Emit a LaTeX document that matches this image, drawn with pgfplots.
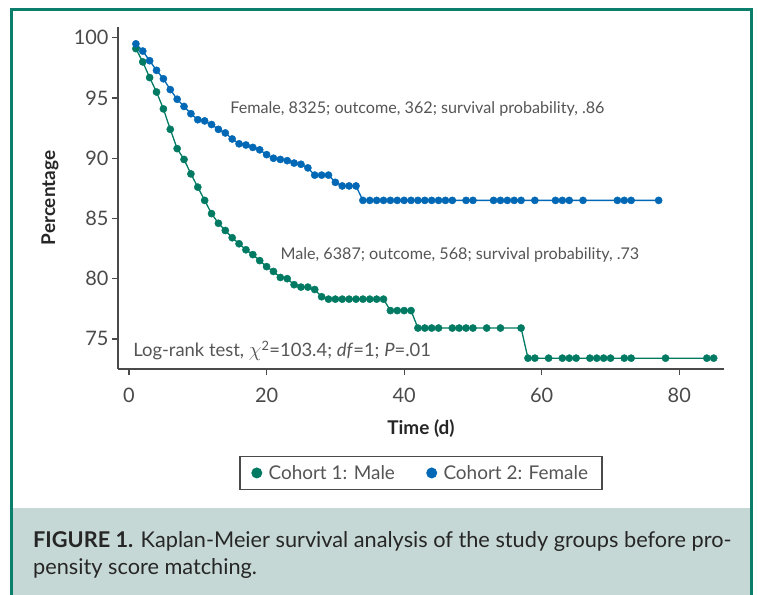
\documentclass[border=0pt]{standalone}
\usepackage{fontspec}
\setmainfont{Lato}
\usepackage{pgfplots}
\pgfplotsset{compat=1.18}

\definecolor{malegreen}{HTML}{007A62}
\definecolor{femaleblue}{HTML}{0068B5}
\definecolor{framegreen}{HTML}{0B7F6B}
\definecolor{capbg}{HTML}{C6D8D5}
\definecolor{txtgray}{HTML}{555555}
\definecolor{axgray}{HTML}{4A4A4A}

\begin{document}
\begin{tikzpicture}[x=1bp,y=1bp]
\useasboundingbox (0,0) rectangle (758,595);
\fill[white] (0,0) rectangle (758,595);
\fill[capbg] (11.5,0) rectangle (751.5,87);
\draw[framegreen, line width=3bp] (11.5,-2) -- (11.5,585.3) -- (751.5,585.3) -- (751.5,-2);
\node[anchor=base west, inner sep=0pt, font=\fontsize{21.8}{24}\selectfont, text=black!85] at (33,47) {\textbf{FIGURE 1.} Kaplan-Meier survival analysis of the study groups before pro-};
\node[anchor=base west, inner sep=0pt, font=\fontsize{21.8}{24}\selectfont, text=black!85] at (33,20) {pensity score matching.};

\begin{axis}[
  at={(118bp,226bp)}, anchor=south west,
  scale only axis, width=606bp, height=342bp,
  xmin=-1.6, xmax=86.5, ymin=72.5, ymax=100.9,
  axis x line*=bottom, axis y line*=left,
  axis line style={axgray, line width=1.3bp},
  tick align=outside, major tick length=6bp,
  every tick/.style={axgray, line width=1.3bp},
  xtick={0,20,40,60,80}, ytick={75,80,85,90,95,100},
  ticklabel style={font=\fontsize{20}{22}\selectfont, text=axgray},
  xticklabel style={yshift=-10bp},
  /pgf/number format/assume math mode=true,
  xlabel={Time (d)}, ylabel={Percentage},
  every axis x label/.style={at={(rel axis cs:0.5,0)}, anchor=center, yshift=-60bp, font=\bfseries\fontsize{19}{22}\selectfont, text=black!85},
  every axis y label/.style={at={(rel axis cs:0,0.5)}, anchor=center, rotate=90, yshift=68bp, font=\bfseries\fontsize{19}{22}\selectfont, text=black!85},
  legend style={at={(0.5,-0.304)}, anchor=center, legend columns=2, draw=axgray, line width=1.3bp,
    font=\fontsize{19}{22}\selectfont, text=txtgray, inner xsep=12bp, inner ysep=7bp,
    /tikz/every odd column/.append style={column sep=5bp},
    /tikz/every even column/.append style={column sep=30bp}},
  legend cell align=left,
]
\addplot[malegreen, line width=1.3bp, mark=*, mark size=3.6bp, mark options={line width=0.4bp}, forget plot] coordinates {
(1,99.1) (2,98.0) (3,96.7) (4,95.5) (5,94.1) (6,92.4) (7,90.8) (8,89.9) (9,88.7) (10,87.6)
(11,86.5) (12,85.4) (13,84.6) (14,84.0) (15,83.4) (16,82.9) (17,82.4) (18,82.0) (19,81.5) (20,81.0)
(21,80.6) (22,80.1) (23,80.0) (24,79.5) (25,79.3) (26,79.3) (27,79.1) (28,78.5) (29,78.3)
(30,78.3) (31,78.3) (32,78.3) (33,78.3) (34,78.3) (35,78.3) (36,78.3) (37,78.3)
(38,77.35) (39,77.35) (40,77.35) (41,77.35)
(42,75.9) (43,75.9) (44,75.9) (45,75.9) (47,75.9) (48,75.9) (49,75.9) (50,75.9) (52,75.9) (54,75.9) (57,75.9)
(58,73.4) (59,73.4) (61,73.4) (63,73.4) (64,73.4) (65,73.4) (67,73.4) (68,73.4) (69,73.4) (70,73.4)
(72,73.4) (73,73.4) (78,73.4) (84,73.4) (85,73.4)
};
\addplot[femaleblue, line width=1.3bp, mark=*, mark size=3.6bp, mark options={line width=0.4bp}, forget plot] coordinates {
(1,99.5) (2,98.9) (3,98.1) (4,97.3) (5,96.6) (6,95.7) (7,94.9) (8,94.3) (9,93.7) (10,93.2)
(11,93.1) (12,92.8) (13,92.4) (14,92.1) (15,91.6) (16,91.2) (17,91.1) (18,90.9) (19,90.7) (20,90.3)
(21,90.0) (22,89.9) (23,89.8) (24,89.6) (25,89.5) (26,89.2) (27,88.6) (28,88.6) (29,88.6) (30,88.0)
(31,87.7) (32,87.7) (33,87.7)
(34,86.5) (35,86.5) (36,86.5) (37,86.5) (38,86.5) (39,86.5) (40,86.5) (41,86.5) (42,86.5) (43,86.5)
(44,86.5) (45,86.5) (46,86.5) (47,86.5) (49,86.5) (50,86.5) (53,86.5) (54,86.5) (55,86.5) (56,86.5)
(57,86.5) (59,86.5) (62,86.5) (63,86.5) (64,86.5) (66,86.5) (71,86.5) (72,86.5) (73,86.5) (77,86.5)
};
\addlegendimage{only marks, mark=*, mark size=4.8bp, malegreen}
\addlegendentry{Cohort 1: Male}
\addlegendimage{only marks, mark=*, mark size=4.8bp, femaleblue}
\addlegendentry{Cohort 2: Female}
\node[anchor=base west, inner sep=0pt, font=\fontsize{16.2}{18}\selectfont, text=txtgray] at (axis cs:14.7,93.69) {Female, 8325; outcome, 362; survival probability, .86};
\node[anchor=base west, inner sep=0pt, font=\fontsize{16.2}{18}\selectfont, text=txtgray] at (axis cs:22.0,81.56) {Male, 6387; outcome, 568; survival probability, .73};
\node[anchor=base west, inner sep=0pt, font=\fontsize{18.5}{20}\selectfont, text=txtgray] at (axis cs:0.6,73.5) {Log-rank test, {\fontsize{22}{22}\selectfont$\chi$}\textsuperscript{2}=103.4; \textit{df}=1; \textit{P}=.01};
\end{axis}
\end{tikzpicture}
\end{document}
